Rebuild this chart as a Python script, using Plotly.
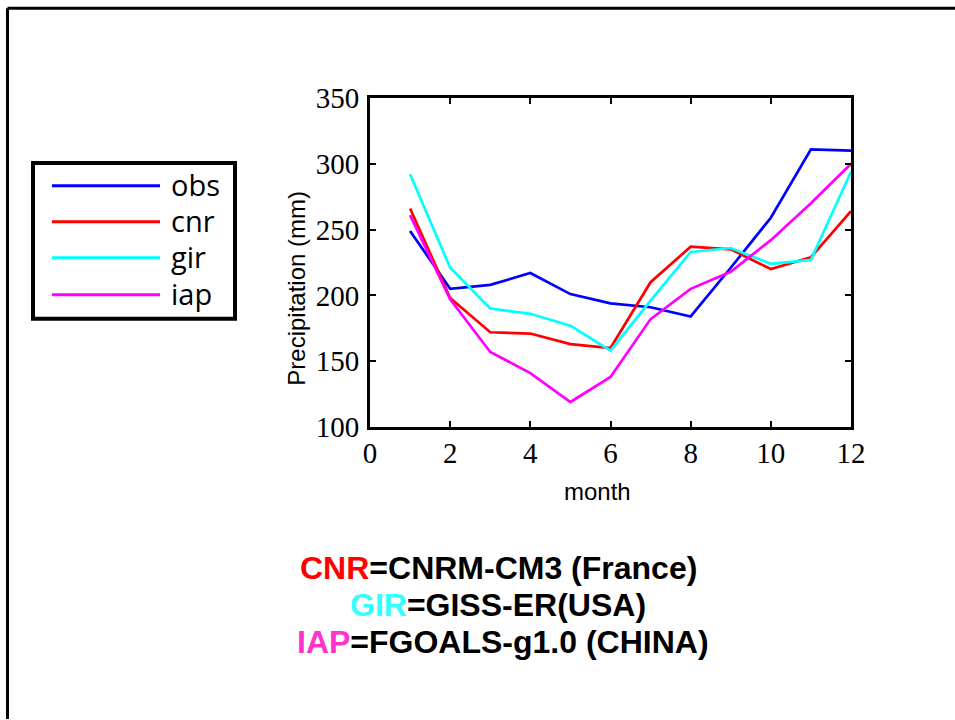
import plotly.graph_objects as go

months = [1, 2, 3, 4, 5, 6, 7, 8, 9, 10, 11, 12]
obs = [249, 205, 208, 217, 201, 194, 191, 184, 221, 259, 311, 310]
cnr = [266, 198, 172, 171, 163, 160, 210, 237, 235, 220, 229, 264]
gir = [292, 221, 190, 186, 177, 158, 196, 233, 236, 224, 227, 294]
iap = [261, 197, 157, 141, 119, 138, 182, 205, 218, 242, 270, 300]

series_names = ["obs", "cnr", "gir", "iap"]
series_colors = ["#0000ff", "#ff0000", "#00ffff", "#ff00ff"]
series_values = [obs, cnr, gir, iap]

x_ticks = [0, 2, 4, 6, 8, 10, 12]
y_ticks = [100, 150, 200, 250, 300, 350]

W, H = 955, 720
L, R, T, B = 370, 851, 98, 427.5


def px(x):
    return (x - L) / (R - L)


def py(y):
    return (B - y) / (B - T)


fig = go.Figure()
for name, color, vals in zip(series_names, series_colors, series_values):
    fig.add_trace(go.Scatter(x=months, y=vals, mode="lines", name=name,
                             line=dict(color=color, width=2.7), showlegend=False))

axis_common = dict(showline=True, linecolor="black", linewidth=3, mirror="ticks",
                   ticks="inside", ticklen=6, tickwidth=2, tickcolor="black",
                   showgrid=False, zeroline=False,
                   tickfont=dict(family="Liberation Serif", size=29, color="black"))

fig.update_xaxes(range=[0, 12], tickvals=x_ticks, ticktext=[str(v) for v in x_ticks],
                 ticklabelstandoff=-2, **axis_common)
fig.update_yaxes(range=[100, 350], tickvals=y_ticks, ticktext=[str(v) for v in y_ticks],
                 ticklabelstandoff=2, **axis_common)

shapes = []
# outer slide frame (top and left edges)
shapes.append(dict(type="line", xref="paper", yref="paper", x0=px(7.5), x1=px(955),
                   y0=py(8), y1=py(8), line=dict(color="black", width=3)))
shapes.append(dict(type="line", xref="paper", yref="paper", x0=px(7.5), x1=px(7.5),
                   y0=py(8), y1=py(720), line=dict(color="black", width=3)))
# legend box
shapes.append(dict(type="rect", xref="paper", yref="paper", x0=px(33), x1=px(235),
                   y0=py(163), y1=py(319), line=dict(color="black", width=4),
                   fillcolor="white"))
annotations = []
leg_y = [186, 222, 258, 295]
for name, color, yy in zip(series_names, series_colors, leg_y):
    shapes.append(dict(type="line", xref="paper", yref="paper", x0=px(52), x1=px(160),
                       y0=py(yy), y1=py(yy), line=dict(color=color, width=3)))
    annotations.append(dict(xref="paper", yref="paper", x=px(169), y=py(yy - 1),
                            xanchor="left", yanchor="middle", showarrow=False,
                            text=name, font=dict(family="Open Sans", size=29, color="black")))

annotations.append(dict(xref="paper", yref="paper", x=px(297), y=py(289),
                        xanchor="center", yanchor="middle", showarrow=False, textangle=-90,
                        text="Precipitation (mm)",
                        font=dict(family="Liberation Sans", size=24, color="black")))
annotations.append(dict(xref="paper", yref="paper", x=px(597), y=py(492),
                        xanchor="center", yanchor="middle", showarrow=False,
                        text="month",
                        font=dict(family="Liberation Sans", size=24, color="black")))

notes = [
    ("CNR", "#ff0000", "=CNRM-CM3 (France)", 568.5, 498.5),
    ("GIR", "#33ffff", "=GISS-ER(USA)", 606, 497.5),
    ("IAP", "#ff33cc", "=FGOALS-g1.0 (CHINA)", 642.5, 503),
]
for key, color, rest, yy, xx in notes:
    annotations.append(dict(xref="paper", yref="paper", x=px(xx), y=py(yy),
                            xanchor="center", yanchor="middle", showarrow=False,
                            text=f"<b><span style='color:{color}'>{key}</span>{rest}</b>",
                            font=dict(family="Liberation Sans", size=32, color="black")))

fig.update_layout(width=W, height=H, margin=dict(l=L, r=W - R, t=T, b=H - B),
                  paper_bgcolor="white", plot_bgcolor="white",
                  shapes=shapes, annotations=annotations, showlegend=False)

fig.write_html("out.html")
